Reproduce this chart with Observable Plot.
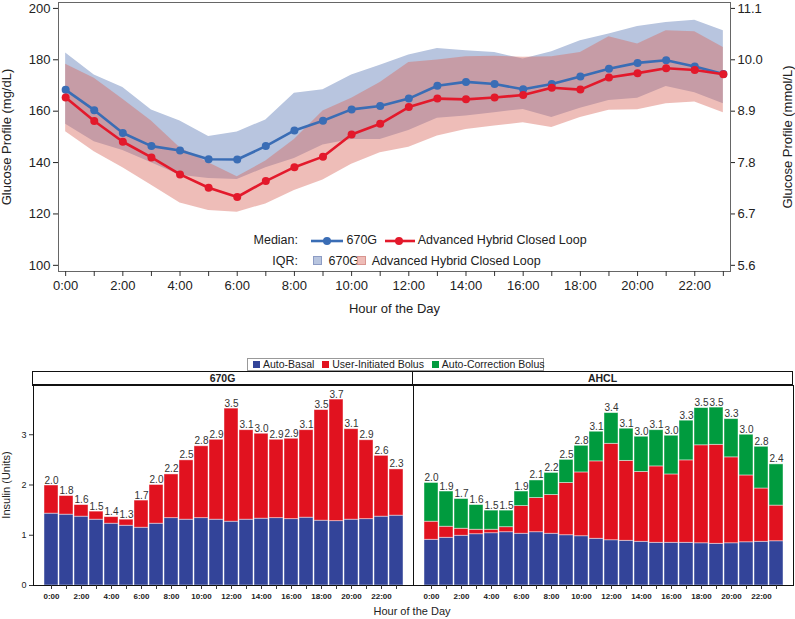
<!DOCTYPE html>
<html><head><meta charset="utf-8">
<script src="https://cdn.jsdelivr.net/npm/d3@7"></script>
<script src="https://cdn.jsdelivr.net/npm/@observablehq/plot@0.6"></script>
<style>
body{margin:0;background:#fff;font-family:"Liberation Sans",Arial,sans-serif;}
#wrap{position:relative;width:795px;height:619px;overflow:hidden;}
.abs{position:absolute;white-space:nowrap;color:#222;}
svg{overflow:visible}
</style></head><body><div id="wrap"></div>
<script>
// ---------- data ----------
const hours = [0,1,2,3,4,5,6,7,8,9,10,11,12,13,14,15,16,17,18,19,20,21,22,23];
const hourLabels = ["0:00","1:00","2:00","3:00","4:00","5:00","6:00","7:00","8:00","9:00","10:00","11:00","12:00","13:00","14:00","15:00","16:00","17:00","18:00","19:00","20:00","21:00","22:00","23:00"];

// Glucose medians (mg/dL)
const median670G = [168.3,160.4,151.5,146.4,144.7,141.3,141.2,146.4,152.5,156.3,160.7,162.0,164.9,169.9,171.4,170.6,168.5,170.6,173.5,176.5,178.8,179.8,177.4,174.5];
const medianAHCL = [165.3,156.2,148.1,142.0,135.4,130.2,126.6,132.8,138.2,142.3,150.9,155.1,161.6,164.9,164.6,165.3,166.3,169.1,168.4,173.1,174.8,176.7,176.0,174.4];
// IQR bands (mg/dL)
const q1_670G = [154.9,148.1,144.7,139.9,135.1,133.8,133.4,138.0,141.6,146.8,149.0,149.0,152.5,157.2,158.1,159.4,160.7,157.5,161.1,164.2,165.0,169.6,167.2,162.9];
const q3_670G = [182.6,174.1,169.2,160.5,156.2,150.1,151.9,156.6,167.0,168.3,174.1,177.9,181.9,184.4,183.5,182.8,180.3,183.1,187.4,190.0,193.0,194.5,195.4,191.3];
const q1_AHCL = [152.0,144.2,138.0,131.2,124.3,121.3,120.7,123.9,129.1,133.2,139.3,143.8,146.0,150.3,152.9,154.2,155.5,153.6,157.5,160.4,160.6,162.9,163.6,159.4];
const q3_AHCL = [178.3,172.8,164.6,156.2,145.8,139.9,134.5,140.6,149.0,160.1,165.0,171.2,178.9,179.9,181.2,181.4,181.0,181.2,182.8,189.0,186.1,191.3,190.9,184.8];
const mgTicks = [100,120,140,160,180,200];
const mmolTickLabels = ["5.6","6.7","7.8","8.9","10.0","11.1"];

// Insulin (Units) per hour, stacked components
const systems = ["670G","AHCL"];
const components = ["Auto-Basal","User-Initiated Bolus","Auto-Correction Bolus"];
const componentColors = ["#334499","#e1121f","#009b3e"];
const basal670G = [1.43,1.41,1.37,1.31,1.23,1.19,1.15,1.23,1.34,1.31,1.34,1.31,1.27,1.31,1.33,1.34,1.32,1.35,1.29,1.28,1.31,1.32,1.37,1.39];
const bolus670G = [0.56,0.37,0.23,0.16,0.13,0.12,0.54,0.77,0.87,1.18,1.43,1.59,2.25,1.78,1.69,1.56,1.60,1.74,2.20,2.42,1.80,1.57,1.21,0.92];
const corr670G  = [0,0,0,0,0,0,0,0,0,0,0,0,0,0,0,0,0,0,0,0,0,0,0,0];
const basalAHCL = [0.91,0.95,0.99,1.02,1.04,1.06,1.03,1.06,1.03,1.00,0.98,0.93,0.90,0.89,0.87,0.85,0.85,0.85,0.84,0.83,0.84,0.86,0.87,0.88];
const bolusAHCL = [0.36,0.22,0.14,0.09,0.07,0.10,0.55,0.68,0.77,1.04,1.27,1.54,1.92,1.59,1.39,1.52,1.36,1.64,1.95,1.97,1.71,1.33,1.06,0.71];
const corrAHCL  = [0.77,0.70,0.59,0.49,0.38,0.33,0.29,0.35,0.44,0.46,0.53,0.59,0.61,0.64,0.70,0.72,0.77,0.79,0.74,0.74,0.76,0.81,0.83,0.82];
const insulinTicks = [0,1,2,3];

// ---------- tables ----------
const glucose = hours.map((h,i)=>({h, m670:median670G[i], mAH:medianAHCL[i], lo670:q1_670G[i], hi670:q3_670G[i], loAH:q1_AHCL[i], hiAH:q3_AHCL[i]}));
const series = {"670G":[basal670G,bolus670G,corr670G], "AHCL":[basalAHCL,bolusAHCL,corrAHCL]};
const insulin = [];
systems.forEach(s => components.forEach((c,ci) => hours.forEach((h,i) => {
  const v = series[s][ci][i];
  if (v > 0) insulin.push({system:s, hour:h, component:c, value:v});
})));
const totals = [];
systems.forEach(s => hours.forEach((h,i) => totals.push({system:s, hour:h, total:d3.sum(series[s], arr => arr[i])})));

const FONT = "Liberation Sans, Arial, sans-serif";
const blue = "#3a6db5", red = "#e3192b";
const wrap = document.getElementById("wrap");

// ---------- top chart ----------
const topPlot = Plot.plot({
  width: 795, height: 318,
  marginTop: 2, marginBottom: 47, marginLeft: 58, marginRight: 65,
  style: {fontFamily: FONT, fontSize: "13px", color: "#222", background: "transparent"},
  x: {domain: [-0.25, 23.25]},
  y: {domain: [97.6, 202.3]},
  marks: [
    Plot.areaY(glucose, {x:"h", y1:"lo670", y2:"hi670", fill:"#b8c5df"}),
    Plot.areaY(glucose, {x:"h", y1:"loAH", y2:"hiAH", fill:"rgb(216,105,94)", fillOpacity:0.44}),
    Plot.line(glucose, {x:"h", y:"m670", stroke:blue, strokeWidth:2.6}),
    Plot.dot(glucose, {x:"h", y:"m670", fill:blue, r:4}),
    Plot.line(glucose, {x:"h", y:"mAH", stroke:red, strokeWidth:2.6}),
    Plot.dot(glucose, {x:"h", y:"mAH", fill:red, r:4}),
    Plot.frame({stroke:"#666"}),
    Plot.axisX({ticks: hours, tickSize:5, tickPadding:4, stroke:"#333",
      tickFormat: d => d % 2 === 0 ? hourLabels[d] : "",
      label: "Hour of the Day", labelAnchor:"center", labelArrow:"none", labelOffset: 41}),
    Plot.axisY({anchor:"left", ticks: mgTicks, tickSize:5, tickPadding:3, stroke:"#222",
      label: "Glucose Profile (mg/dL)", labelAnchor:"center", labelArrow:"none", labelOffset: 57}),
    Plot.axisY({anchor:"right", ticks: mgTicks, tickSize:4, tickPadding:3, stroke:"#222",
      tickFormat: d => mmolTickLabels[mgTicks.indexOf(d)],
      label: "Glucose Profile (mmol/L)", labelAnchor:"center", labelArrow:"none", labelOffset: 61})
  ]
});
topPlot.style.position = "absolute"; topPlot.style.left = "0px"; topPlot.style.top = "0px";
wrap.appendChild(topPlot);

// top legend (HTML overlay)
function el(html, css){ const d=document.createElement("div"); d.className="abs"; d.innerHTML=html; Object.assign(d.style, css); wrap.appendChild(d); return d; }
const lf = {fontSize:"12.5px", lineHeight:"14px"};
el("Median:", {...lf, left:"250px", width:"48px", textAlign:"right", top:"233px"});
el(`<svg width="32" height="10" style="vertical-align:middle"><line x1="0" y1="5" x2="32" y2="5" stroke="${blue}" stroke-width="2.6"/><circle cx="16" cy="5" r="4" fill="${blue}"/></svg> 670G`, {...lf, left:"311px", top:"233px"});
el(`<svg width="30" height="10" style="vertical-align:middle"><line x1="0" y1="5" x2="30" y2="5" stroke="${red}" stroke-width="2.6"/><circle cx="14" cy="5" r="4" fill="${red}"/></svg> Advanced Hybrid Closed Loop`, {...lf, left:"385px", top:"233px"});
el("IQR:", {...lf, left:"250px", width:"48px", textAlign:"right", top:"254px"});
el(`<span style="display:inline-block;width:7px;height:7px;background:#b8c5df;border:0.5px solid #8d9cc4;margin-right:3px"></span> 670G`, {...lf, left:"313px", top:"254px"});
el(`<span style="display:inline-block;width:7px;height:7px;background:#eebcb7;border:0.5px solid #d99590;margin-right:3px"></span> Advanced Hybrid Closed Loop`, {...lf, left:"357px", top:"254px"});

// ---------- bottom chart ----------
const botPlot = Plot.plot({
  width: 795, height: 248,
  marginTop: 14, marginBottom: 34, marginLeft: 32, marginRight: 2,
  style: {fontFamily: FONT, fontSize: "9px", color: "#222", background: "transparent"},
  fx: {domain: systems, padding: 0, axis: null},
  x: {domain: hours, paddingInner: 0.1, paddingOuter: 0.28, axis: null},
  y: {domain: [0, 3.98], axis: null},
  color: {domain: components, range: componentColors},
  marks: [
    Plot.barY(insulin, {fx:"system", x:"hour", y:"value", fill:"component", stroke:"white", strokeOpacity:0.55, strokeWidth:0.8}),
    Plot.text(totals, {fx:"system", x:"hour", y:"total", text: d => d.total.toFixed(1), dy:-2, lineAnchor:"bottom", fontSize:10, fill:"#333"}),
    Plot.frame({stroke:"#111"}),
    Plot.axisX({ticks: hours, tickSize:4, tickPadding:4, fontSize:8, fontWeight:"bold", stroke:"#333",
      tickFormat: d => d % 2 === 0 ? hourLabels[d] : "", label: null}),
    Plot.axisY({anchor:"left", ticks: insulinTicks, tickSize:4, tickPadding:3, fontSize:9, stroke:"#333",
      tickFormat: d => String(d), label: null})
  ]
});
botPlot.style.position = "absolute"; botPlot.style.left = "0px"; botPlot.style.top = "371px";
wrap.appendChild(botPlot);

// bottom y label (rotated)
el("Insulin (Units)", {left:"-34px", top:"479px", width:"80px", textAlign:"center", fontSize:"11px", lineHeight:"12px", transform:"rotate(-90deg)"});

// facet headers
el("670G", {left:"32px", top:"371px", width:"379px", height:"12px", border:"1px solid #111", borderBottom:"2px solid #111", textAlign:"center", fontWeight:"bold", fontSize:"10.5px", lineHeight:"12px", boxSizing:"content-box"});
el("AHCL", {left:"412px", top:"371px", width:"379px", height:"12px", border:"1px solid #111", borderBottom:"2px solid #111", textAlign:"center", fontWeight:"bold", fontSize:"10.5px", lineHeight:"12px", boxSizing:"content-box"});

// bottom legend
const sw = c => `<span style="display:inline-block;width:7px;height:7px;background:${c};margin:0 3px 0 5px;vertical-align:0px"></span>`;
el(components.map((c,i)=> sw(componentColors[i]) + c).join(" "), {left:"247px", top:"358px", width:"295px", height:"11px", border:"1px solid #999", fontSize:"10.5px", lineHeight:"11px", textAlign:"center"});

// bottom x label
el("Hour of the Day", {left:"312px", width:"200px", textAlign:"center", top:"605px", fontSize:"11px", lineHeight:"13px"});
</script></body></html>
